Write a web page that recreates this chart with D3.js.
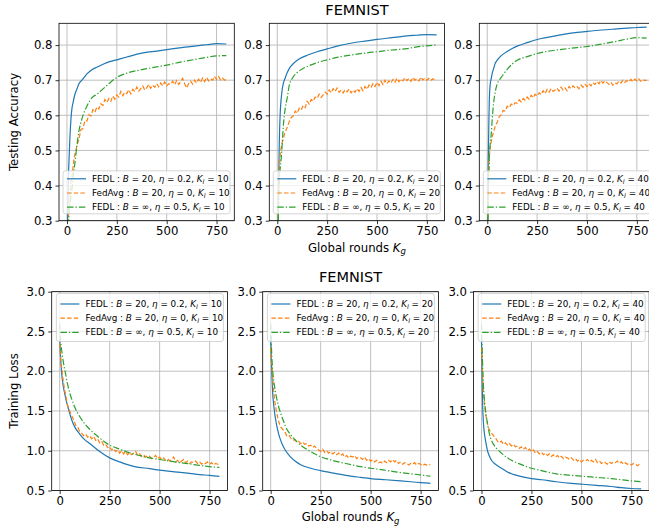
<!DOCTYPE html>
<html>
<head>
<meta charset="utf-8">
<script src="https://cdn.jsdelivr.net/npm/d3@7"></script>
<style>
  body { margin: 0; background: #fff; }
  text { font-family: "DejaVu Sans", sans-serif; fill: #000; }
</style>
</head>
<body>
<svg id="chart"></svg>
<script>
const roundsSmooth = [0, 3, 5, 8, 10, 15, 20, 25, 30, 40, 50, 60, 75, 100, 125, 150, 200, 250, 300, 375, 450, 500, 575, 650, 700, 750, 799];
// rounds for the noisy FedAvg curves
const roundsNoisy = [0, 3, 6, 10, 15, 20, 25, 30, 35, 40, 45,
    50, 60, 70, 80, 90, 100, 110, 120, 130, 140,
    150, 160, 170, 180, 190, 200, 210, 220, 230, 240,
    250, 260, 270, 280, 290, 300, 310, 320, 330, 340,
    350, 360, 370, 380, 390, 400, 410, 420, 430, 440,
    450, 460, 470, 480, 490, 500, 510, 520, 530, 540,
    550, 560, 570, 580, 590, 600, 610, 620, 630, 640,
    650, 660, 670, 680, 690, 700, 710, 720, 730, 740,
    750, 760, 770, 780, 790, 799];

// testing accuracy
const accFedl10 = [0.10, 0.30, 0.37, 0.44, 0.47, 0.54, 0.59, 0.62, 0.635, 0.66, 0.675, 0.69, 0.70, 0.718, 0.73, 0.737, 0.75, 0.758, 0.766, 0.777, 0.783, 0.787, 0.793, 0.798, 0.801, 0.804, 0.803];
const accFedlFull10 = [0.05, 0.15, 0.22, 0.29, 0.32, 0.35, 0.37, 0.39, 0.42, 0.465, 0.515, 0.555, 0.59, 0.626, 0.65, 0.66, 0.685, 0.708, 0.72, 0.73, 0.738, 0.743, 0.752, 0.76, 0.765, 0.769, 0.770];
const accFedAvg10 = [0.10, 0.22, 0.30, 0.338, 0.38, 0.41, 0.43, 0.45, 0.475, 0.49, 0.50,
    0.515, 0.532, 0.560, 0.562, 0.585, 0.584, 0.602, 0.598, 0.616, 0.609,
    0.624, 0.618, 0.633, 0.628, 0.645, 0.637, 0.648, 0.640, 0.655, 0.646,
    0.658, 0.652, 0.668, 0.656, 0.666, 0.662, 0.673, 0.661, 0.674, 0.668,
    0.680, 0.669, 0.676, 0.684, 0.672, 0.679, 0.688, 0.677, 0.686, 0.680,
    0.690, 0.681, 0.692, 0.684, 0.695, 0.684, 0.690, 0.688, 0.697, 0.687,
    0.699, 0.688, 0.696, 0.705, 0.690, 0.678, 0.690, 0.697, 0.689, 0.700,
    0.692, 0.703, 0.694, 0.706, 0.696, 0.708, 0.698, 0.704, 0.700, 0.711,
    0.702, 0.710, 0.701, 0.706, 0.700, 0.703];

const accFedl20 = [0.10, 0.25, 0.33, 0.45, 0.52, 0.61, 0.65, 0.675, 0.69, 0.707, 0.722, 0.733, 0.744, 0.757, 0.765, 0.771, 0.781, 0.789, 0.797, 0.806, 0.812, 0.816, 0.821, 0.826, 0.828, 0.830, 0.829];
const accFedlFull20 = [0.10, 0.22, 0.30, 0.37, 0.41, 0.45, 0.48, 0.52, 0.567, 0.62, 0.65, 0.685, 0.705, 0.722, 0.732, 0.739, 0.75, 0.758, 0.765, 0.772, 0.778, 0.781, 0.786, 0.79, 0.795, 0.798, 0.80];
const accFedAvg20 = [0.10, 0.28, 0.38, 0.45, 0.49, 0.51, 0.525, 0.53, 0.545, 0.552, 0.56,
    0.566, 0.582, 0.594, 0.598, 0.612, 0.606, 0.620, 0.615, 0.628, 0.622,
    0.640, 0.632, 0.645, 0.640, 0.652, 0.648, 0.660, 0.651, 0.658, 0.666,
    0.660, 0.672, 0.664, 0.676, 0.668, 0.678, 0.666, 0.672, 0.664, 0.673,
    0.667, 0.675, 0.664, 0.672, 0.666, 0.676, 0.668, 0.679, 0.670, 0.682,
    0.674, 0.686, 0.679, 0.690, 0.682, 0.694, 0.685, 0.697, 0.688, 0.700,
    0.690, 0.698, 0.692, 0.702, 0.694, 0.706, 0.696, 0.703, 0.698, 0.707,
    0.699, 0.705, 0.697, 0.708, 0.700, 0.704, 0.698, 0.709, 0.701, 0.706,
    0.700, 0.705, 0.699, 0.704, 0.701, 0.702];

const accFedl40 = [0.15, 0.35, 0.47, 0.58, 0.64, 0.69, 0.705, 0.72, 0.73, 0.748, 0.757, 0.764, 0.772, 0.782, 0.79, 0.797, 0.807, 0.816, 0.822, 0.83, 0.836, 0.839, 0.843, 0.846, 0.848, 0.85, 0.851];
const accFedlFull40 = [0.10, 0.25, 0.35, 0.44, 0.48, 0.52, 0.548, 0.59, 0.625, 0.667, 0.69, 0.70, 0.712, 0.731, 0.746, 0.757, 0.767, 0.776, 0.782, 0.788, 0.793, 0.796, 0.803, 0.811, 0.817, 0.821, 0.82];
const accFedAvg40 = [0.10, 0.33, 0.42, 0.48, 0.51, 0.525, 0.54, 0.55, 0.56, 0.568, 0.575,
    0.580, 0.596, 0.602, 0.614, 0.612, 0.626, 0.622, 0.632, 0.628, 0.636,
    0.634, 0.644, 0.638, 0.648, 0.643, 0.652, 0.646, 0.657, 0.650, 0.660,
    0.655, 0.664, 0.659, 0.670, 0.662, 0.674, 0.666, 0.676, 0.668, 0.672,
    0.677, 0.669, 0.680, 0.672, 0.678, 0.670, 0.682, 0.676, 0.684, 0.678,
    0.682, 0.676, 0.686, 0.680, 0.688, 0.682, 0.690, 0.684, 0.693, 0.688,
    0.696, 0.690, 0.699, 0.692, 0.698, 0.693, 0.688, 0.694, 0.686, 0.692,
    0.690, 0.697, 0.692, 0.700, 0.694, 0.699, 0.695, 0.702, 0.696, 0.703,
    0.698, 0.704, 0.697, 0.702, 0.699, 0.700];

// training loss
const lossFedl10 = [2.40, 2.25, 2.15, 2.03, 1.97, 1.86, 1.78, 1.72, 1.66, 1.56, 1.47, 1.39, 1.30, 1.21, 1.14, 1.09, 0.99, 0.91, 0.86, 0.80, 0.775, 0.756, 0.735, 0.715, 0.70, 0.69, 0.677];
const lossFedlFull10 = [2.60, 2.45, 2.38, 2.30, 2.26, 2.17, 2.09, 2.02, 1.96, 1.83, 1.73, 1.65, 1.55, 1.43, 1.34, 1.27, 1.16, 1.07, 1.02, 0.955, 0.91, 0.89, 0.86, 0.835, 0.815, 0.80, 0.79];
const lossFedAvg10 = [2.35, 2.22, 2.12, 2.05, 1.93, 1.84, 1.76, 1.70, 1.63, 1.57, 1.53,
    1.50, 1.44, 1.39, 1.32, 1.30, 1.24, 1.22, 1.19, 1.21, 1.17,
    1.19, 1.15, 1.18, 1.13, 1.15, 1.10, 1.12, 1.07, 1.08, 1.04,
    1.05, 1.01, 1.03, 0.99, 1.01, 0.97, 1.00, 0.96, 0.99, 0.95,
    0.98, 0.95, 0.97, 0.99, 0.94, 0.96, 0.93, 0.95, 0.92, 0.94,
    0.93, 0.90, 0.92, 0.94, 0.90, 0.92, 0.89, 0.91, 0.88, 0.90,
    0.87, 0.89, 0.92, 0.86, 0.88, 0.85, 0.87, 0.89, 0.85, 0.87,
    0.84, 0.86, 0.85, 0.87, 0.84, 0.86, 0.83, 0.85, 0.84, 0.86,
    0.83, 0.85, 0.82, 0.84, 0.83, 0.83];

const lossFedl20 = [2.45, 2.15, 2.01, 1.83, 1.72, 1.58, 1.47, 1.39, 1.32, 1.21, 1.13, 1.07, 1.00, 0.92, 0.865, 0.825, 0.78, 0.75, 0.725, 0.69, 0.665, 0.65, 0.635, 0.62, 0.61, 0.60, 0.59];
const lossFedlFull20 = [2.60, 2.35, 2.22, 2.08, 2.01, 1.88, 1.80, 1.72, 1.66, 1.55, 1.47, 1.40, 1.30, 1.20, 1.13, 1.07, 0.99, 0.925, 0.885, 0.84, 0.80, 0.78, 0.755, 0.725, 0.71, 0.695, 0.68];
const lossFedAvg20 = [2.30, 2.15, 2.05, 1.93, 1.75, 1.63, 1.55, 1.48, 1.42, 1.37, 1.33,
    1.30, 1.27, 1.24, 1.19, 1.20, 1.16, 1.13, 1.14, 1.11, 1.12,
    1.09, 1.11, 1.08, 1.09, 1.06, 1.07, 1.04, 1.06, 1.03, 1.01,
    0.99, 1.02, 0.98, 1.00, 0.97, 0.99, 0.96, 0.98, 0.95, 0.97,
    0.94, 0.96, 0.92, 0.94, 0.91, 0.93, 0.92, 0.94, 0.90, 0.92,
    0.91, 0.89, 0.92, 0.88, 0.90, 0.87, 0.89, 0.86, 0.88, 0.85,
    0.86, 0.84, 0.87, 0.85, 0.88, 0.86, 0.89, 0.86, 0.88, 0.84,
    0.86, 0.83, 0.85, 0.84, 0.82, 0.84, 0.83, 0.85, 0.82, 0.84,
    0.83, 0.81, 0.83, 0.82, 0.83, 0.82];

const lossFedl40 = [2.40, 1.93, 1.64, 1.43, 1.34, 1.21, 1.13, 1.06, 1.00, 0.93, 0.88, 0.85, 0.82, 0.78, 0.74, 0.71, 0.675, 0.65, 0.635, 0.61, 0.59, 0.58, 0.565, 0.55, 0.535, 0.525, 0.52];
const lossFedlFull40 = [2.60, 2.30, 2.14, 1.93, 1.80, 1.63, 1.51, 1.42, 1.34, 1.21, 1.13, 1.08, 1.03, 0.97, 0.92, 0.88, 0.825, 0.78, 0.75, 0.71, 0.69, 0.68, 0.665, 0.65, 0.635, 0.62, 0.61];
const lossFedAvg40 = [2.30, 2.10, 1.90, 1.72, 1.58, 1.47, 1.40, 1.34, 1.29, 1.26, 1.24,
    1.22, 1.19, 1.16, 1.12, 1.10, 1.12, 1.08, 1.10, 1.07, 1.09,
    1.06, 1.08, 1.05, 1.06, 1.03, 1.05, 1.02, 1.04, 1.00, 1.02,
    0.99, 1.01, 0.97, 0.99, 0.96, 0.98, 0.95, 0.97, 0.94, 0.96,
    0.93, 0.95, 0.92, 0.94, 0.91, 0.93, 0.90, 0.92, 0.91, 0.89,
    0.91, 0.88, 0.90, 0.87, 0.89, 0.86, 0.88, 0.87, 0.89, 0.86,
    0.88, 0.86, 0.89, 0.85, 0.87, 0.84, 0.86, 0.85, 0.83, 0.86,
    0.84, 0.86, 0.85, 0.87, 0.84, 0.86, 0.83, 0.85, 0.83, 0.84,
    0.82, 0.84, 0.83, 0.81, 0.83, 0.82];

const localIters = [10, 20, 40];
const methodNames = ['FEDL', 'FedAvg', 'FEDL'];
const batchLabels = ['20', '20', '\u221e'];
const etaLabels = ['0.2', '0', '0.5'];
const xTicks = [0, 250, 500, 750];
const accTicks = [0.3, 0.4, 0.5, 0.6, 0.7, 0.8];
const lossTicks = [0.5, 1.0, 1.5, 2.0, 2.5, 3.0];

const colors = ['#1f77b4', '#ff7f0e', '#2ca02c'];
const dashes = [null, '4.5,2.2', '6.5,2,1.3,2'];

const svg = d3.select('#chart')
    .attr('width', 649)
    .attr('height', 529);

const tickFont = 11.7;

function drawPanel(p, idx) {
    const g = svg.append('g').attr('transform', `translate(${p.left},${p.top})`);
    const x = d3.scaleLinear().domain([-40, 839]).range([0, p.width]);
    const y = d3.scaleLinear().domain(p.yDomain).range([p.height, 0]);

    // grid
    g.selectAll('line.gx').data(xTicks).join('line')
        .attr('x1', d => x(d)).attr('x2', d => x(d))
        .attr('y1', 0).attr('y2', p.height)
        .attr('stroke', '#b0b0b0').attr('stroke-width', 0.8);
    g.selectAll('line.gy').data(p.yTicks).join('line')
        .attr('x1', 0).attr('x2', p.width)
        .attr('y1', d => y(d)).attr('y2', d => y(d))
        .attr('stroke', '#b0b0b0').attr('stroke-width', 0.8);

    const clipId = 'clip' + idx;
    g.append('clipPath').attr('id', clipId)
        .append('rect').attr('width', p.width).attr('height', p.height);

    const plot = g.append('g').attr('clip-path', `url(#${clipId})`);
    p.series.forEach((s, i) => {
        const line = d3.line()
            .x(d => x(d[0]))
            .y(d => y(d[1]))
            .curve(s.smooth ? d3.curveMonotoneX : d3.curveLinear);
        plot.append('path')
            .datum(d3.zip(s.rounds, s.values))
            .attr('d', line)
            .attr('fill', 'none')
            .attr('stroke', colors[i])
            .attr('stroke-width', 1.2)
            .attr('stroke-dasharray', dashes[i]);
    });

    // axes
    const xAxis = d3.axisBottom(x).tickValues(xTicks).tickSize(3.5).tickSizeOuter(0).tickPadding(3);
    const yAxis = d3.axisLeft(y).tickValues(p.yTicks).tickSize(3.5).tickSizeOuter(0).tickPadding(3)
        .tickFormat(d3.format('.1f'));
    const xg = g.append('g').attr('transform', `translate(0,${p.height})`).call(xAxis);
    const yg = g.append('g').call(yAxis);
    [xg, yg].forEach(a => {
        a.select('.domain').remove();
        a.selectAll('line').attr('stroke', '#000').attr('stroke-width', 0.8);
        a.selectAll('text').attr('font-size', tickFont).attr('font-family', 'DejaVu Sans');
    });

    g.append('rect')
        .attr('width', p.width).attr('height', p.height)
        .attr('fill', 'none').attr('stroke', '#000').attr('stroke-width', 0.8);

    // legend
    const lg = g.append('g').attr('transform', `translate(${p.legendX},${p.legendY})`);
    lg.append('rect')
        .attr('width', 167).attr('height', p.legendH)
        .attr('rx', 2.5)
        .attr('fill', 'rgba(255,255,255,0.8)')
        .attr('stroke', '#cccccc').attr('stroke-width', 0.8);
    methodNames.forEach((m, i) => {
        const ry = p.legendRow0 + i * 14.2;
        lg.append('line')
            .attr('x1', 4).attr('x2', 23).attr('y1', ry).attr('y2', ry)
            .attr('stroke', colors[i]).attr('stroke-width', 1.2)
            .attr('stroke-dasharray', dashes[i]);
        const t = lg.append('text').attr('x', 29).attr('y', ry).attr('dy', '0.35em')
            .attr('font-size', 8.8);
        t.append('tspan').text(m + ' : ');
        t.append('tspan').attr('font-style', 'italic').text('B');
        t.append('tspan').text(' = ' + batchLabels[i] + ', ');
        t.append('tspan').attr('font-style', 'italic').text('\u03b7');
        t.append('tspan').text(' = ' + etaLabels[i] + ', ');
        t.append('tspan').attr('font-style', 'italic').text('K');
        t.append('tspan').attr('font-style', 'italic').attr('font-size', 6.4).attr('dy', 2.2).text('l');
        t.append('tspan').attr('dy', -2.2).text(' = ' + p.k);
    });
}

const accSets = [
    [accFedl10, accFedAvg10, accFedlFull10],
    [accFedl20, accFedAvg20, accFedlFull20],
    [accFedl40, accFedAvg40, accFedlFull40]
];
const lossSets = [
    [lossFedl10, lossFedAvg10, lossFedlFull10],
    [lossFedl20, lossFedAvg20, lossFedlFull20],
    [lossFedl40, lossFedAvg40, lossFedlFull40]
];

const topLefts = [59, 269.3, 479.3];
const bottomLefts = [51.7, 262.7, 473.5];

function seriesFrom(set) {
    return set.map((vals, i) => ({
        rounds: i === 1 ? roundsNoisy : roundsSmooth,
        values: vals,
        smooth: i !== 1
    }));
}

localIters.forEach((k, i) => {
    drawPanel({
        left: topLefts[i], top: 23.3, width: 175.3, height: 197.4,
        yDomain: [0.3, 0.862], yTicks: accTicks,
        series: seriesFrom(accSets[i]), k: k,
        legendX: 4, legendY: 147.5, legendH: 43, legendRow0: 8
    }, i);
    drawPanel({
        left: bottomLefts[i], top: 291.7, width: 175.7, height: 198.8,
        yDomain: [0.5, 3.0], yTicks: lossTicks,
        series: seriesFrom(lossSets[i]), k: k,
        legendX: 175.7 - 4 - 167, legendY: 1.8, legendH: 48, legendRow0: 10.5
    }, i + 3);
});

// titles and axis labels
function title(xc, yb) {
    svg.append('text').attr('x', xc).attr('y', yb).attr('text-anchor', 'middle')
        .attr('font-size', 14.5).text('FEMNIST');
}
title(269.3 + 175.3 / 2, 15);
title(262.7 + 175.7 / 2, 281.5);

function xLabel(xc, yb) {
    const t = svg.append('text').attr('x', xc).attr('y', yb).attr('text-anchor', 'middle')
        .attr('font-size', 11.7);
    t.append('tspan').text('Global rounds ');
    t.append('tspan').attr('font-style', 'italic').text('K');
    t.append('tspan').attr('font-style', 'italic').attr('font-size', 8.5).attr('dy', 2.5).text('g');
}
xLabel(269.3 + 175.3 / 2, 251.5);
xLabel(262.7 + 175.7 / 2, 521);

function yLabel(text, xc, yc) {
    svg.append('text').attr('transform', `translate(${xc},${yc}) rotate(-90)`)
        .attr('text-anchor', 'middle').attr('dy', '0.35em')
        .attr('font-size', 11.7).text(text);
}
yLabel('Testing Accuracy', 13.5, 122);
yLabel('Training Loss', 13.5, 391);
</script>
</body>
</html>
